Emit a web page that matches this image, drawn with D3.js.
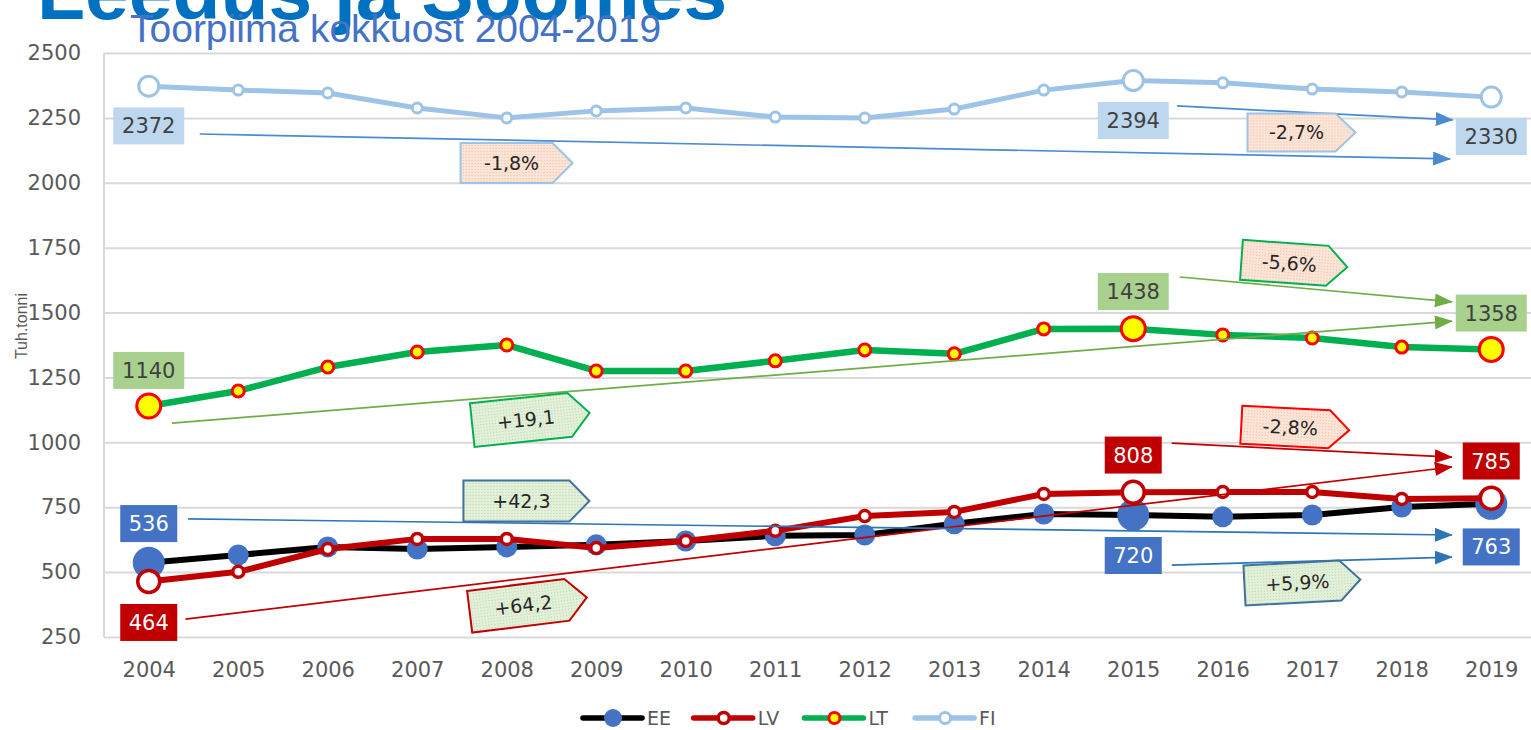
<!DOCTYPE html>
<html>
<head>
<meta charset="utf-8">
<script src="https://cdn.jsdelivr.net/npm/d3@7"></script>
<style>
  body { margin: 0; background: #fff; overflow: hidden; }
  svg { display: block; }
</style>
</head>
<body>
<div id="chart"></div>
<script>
// chart data
const years = [2004, 2005, 2006, 2007, 2008, 2009, 2010, 2011, 2012, 2013, 2014, 2015, 2016, 2017, 2018, 2019];
const yTicks = [250, 500, 750, 1000, 1250, 1500, 1750, 2000, 2250, 2500];
const ee = [536, 566, 597, 589, 597, 605, 620, 640, 643, 686, 724, 720, 713, 720, 751, 763];
const lv = [464, 501, 589, 628, 628, 593, 620, 659, 716, 732, 801, 808, 809, 809, 782, 785];
const lt = [1140, 1198, 1290, 1348, 1375, 1275, 1275, 1314, 1356, 1341, 1437, 1438, 1414, 1402, 1367, 1358];
const fi = [2372, 2357, 2346, 2288, 2250, 2277, 2288, 2253, 2250, 2284, 2357, 2394, 2385, 2361, 2350, 2330];
const seriesNames = ["EE", "LV", "LT", "FI"];
const bigYears = [2004, 2015, 2019];

// value boxes, placed in chart units (year, value)
const valueLabels = [
  { text: "2372", year: 2004, value: 2219, s: "FI" },
  { text: "2394", year: 2015, value: 2240, s: "FI" },
  { text: "2330", year: 2019, value: 2178, s: "FI" },
  { text: "1140", year: 2004, value: 1277, s: "LT" },
  { text: "1438", year: 2015, value: 1581, s: "LT" },
  { text: "1358", year: 2019, value: 1498, s: "LT" },
  { text: "536", year: 2004, value: 687, s: "EE" },
  { text: "720", year: 2015, value: 564, s: "EE" },
  { text: "763", year: 2019, value: 597, s: "EE" },
  { text: "464", year: 2004, value: 306, s: "LV" },
  { text: "808", year: 2015, value: 951, s: "LV" },
  { text: "785", year: 2019, value: 928, s: "LV" }
];

// trend arrows
const trendArrows = [
  { s: "FI", x1: 2004.57, v1: 2188, x2: 2018.54, v2: 2092 },
  { s: "FI", x1: 2015.49, v1: 2296, x2: 2018.57, v2: 2242 },
  { s: "LT", x1: 2004.26, v1: 1074, x2: 2018.56, v2: 1467 },
  { s: "LT", x1: 2015.52, v1: 1637, x2: 2018.56, v2: 1541 },
  { s: "LV", x1: 2004.41, v1: 319, x2: 2018.56, v2: 905 },
  { s: "LV", x1: 2015.43, v1: 997, x2: 2018.56, v2: 943 },
  { s: "EE", x1: 2004.44, v1: 705, x2: 2018.56, v2: 643 },
  { s: "EE", x1: 2015.43, v1: 527, x2: 2018.56, v2: 558 }
];

// change callouts
const changeNotes = [
  { text: "-1,8%", year: 2008.11, value: 2076, angle: 0, border: "#9DC3E6", kind: "peach", w: 112, h: 40 },
  { text: "-2,7%", year: 2016.88, value: 2194, angle: 0, border: "#9DC3E6", kind: "peach", w: 108, h: 38 },
  { text: "-5,6%", year: 2016.80, value: 1689, angle: 4, border: "#00B050", kind: "peach", w: 106, h: 40 },
  { text: "+19,1", year: 2008.27, value: 1090, angle: -6, border: "#00B050", kind: "green", w: 118, h: 44 },
  { text: "-2,8%", year: 2016.81, value: 1057, angle: 3, border: "#FF0000", kind: "peach", w: 108, h: 38 },
  { text: "+42,3", year: 2008.22, value: 774, angle: 0, border: "#41719C", kind: "green", w: 126, h: 41 },
  { text: "+64,2", year: 2008.24, value: 375, angle: -7, border: "#C00000", kind: "green", w: 118, h: 42 },
  { text: "+5,9%", year: 2016.89, value: 460, angle: -3, border: "#41719C", kind: "green", w: 116, h: 40 }
];

const styles = {
  EE: { line: "#000000", lw: 6, fill: "#4472C4", stroke: "none", sw: 0, r: 10.5, rBig: 16, lr: 9,
        box: "#4472C4", txt: "#ffffff", arrow: "#2E75B6" },
  LV: { line: "#C00000", lw: 6, fill: "#ffffff", stroke: "#C00000", sw: 3.5, r: 5.5, rBig: 11, lr: 5.5,
        box: "#C00000", txt: "#ffffff", arrow: "#C00000" },
  LT: { line: "#00B050", lw: 6.5, fill: "#FFFF00", stroke: "#FF0000", sw: 3, r: 6, rBig: 12, lr: 5.5,
        box: "#A9D18E", txt: "#404040", arrow: "#70AD47" },
  FI: { line: "#9DC3E6", lw: 5, fill: "#ffffff", stroke: "#9DC3E6", sw: 3, r: 5, rBig: 10, lr: 5.5,
        box: "#BDD7EE", txt: "#404040", arrow: "#4A8BD2" }
};

const seriesValues = { EE: ee, LV: lv, LT: lt, FI: fi };

const width = 1531, height = 730;
const plot = { left: 104, right: 1536, top: 53, bottom: 637 };

const x = d3.scaleLinear().domain([2003.5, 2019.5]).range([plot.left, plot.right]);
const y = d3.scaleLinear().domain([250, 2500]).range([plot.bottom, plot.top]);

const svg = d3.select("#chart").append("svg")
  .attr("width", width)
  .attr("height", height)
  .attr("viewBox", `0 0 ${width} ${height}`);

const defs = svg.append("defs");

// dotted fills used by the callouts
[["peach", "#FCE4D6", "#EDBFA5"], ["green", "#E2F0D9", "#B9D7A6"]].forEach(([id, base, dot]) => {
  const p = defs.append("pattern").attr("id", "dot-" + id)
    .attr("width", 3).attr("height", 3).attr("patternUnits", "userSpaceOnUse");
  p.append("rect").attr("width", 3).attr("height", 3).attr("fill", base);
  p.append("rect").attr("width", 1).attr("height", 1).attr("fill", dot);
});

seriesNames.forEach(s => {
  defs.append("marker").attr("id", "arrow-" + s)
    .attr("viewBox", "0 0 18 14")
    .attr("markerWidth", 18).attr("markerHeight", 14)
    .attr("refX", 17).attr("refY", 7)
    .attr("markerUnits", "userSpaceOnUse")
    .attr("orient", "auto")
    .append("path").attr("d", "M0,0 L18,7 L0,14 Z").attr("fill", styles[s].arrow);
});

// gridlines
const grid = svg.append("g").attr("transform", `translate(${plot.left},0)`)
  .call(d3.axisLeft(y).tickValues(yTicks).tickFormat("").tickSize(-(plot.right - plot.left)));
grid.select(".domain").remove();
grid.selectAll("line").attr("stroke", "#D9D9D9").attr("stroke-width", 2);

svg.append("line")
  .attr("x1", plot.left).attr("x2", plot.left)
  .attr("y1", plot.top).attr("y2", plot.bottom)
  .attr("stroke", "#D9D9D9").attr("stroke-width", 2);

// y axis labels
const yAxis = svg.append("g").attr("transform", `translate(${plot.left},0)`)
  .call(d3.axisLeft(y).tickValues(yTicks).tickFormat(d3.format("d")).tickSize(0).tickPadding(23));
yAxis.select(".domain").remove();
yAxis.selectAll("text")
  .attr("fill", "#595959")
  .style("font-family", "'DejaVu Sans', sans-serif")
  .style("font-size", "21px");

// x axis labels
const xAxis = svg.append("g").attr("transform", `translate(0,${plot.bottom})`)
  .call(d3.axisBottom(x).tickValues(years).tickFormat(d3.format("d")).tickSize(0).tickPadding(25));
xAxis.select(".domain").remove();
xAxis.selectAll("text")
  .attr("fill", "#595959")
  .style("font-family", "'DejaVu Sans', sans-serif")
  .style("font-size", "21px");

svg.append("text")
  .attr("transform", "translate(27,326) rotate(-90)")
  .attr("text-anchor", "middle")
  .attr("fill", "#595959")
  .style("font-family", "'Liberation Sans', Arial, sans-serif")
  .style("font-size", "16px")
  .text("Tuh.tonni");

// titles
svg.append("text")
  .attr("x", 37).attr("y", 19)
  .attr("fill", "#0070C0")
  .style("font-family", "'Liberation Sans', Arial, sans-serif")
  .style("font-weight", "bold")
  .style("font-size", "78.6px")
  .text("Leedus ja Soomes");

svg.append("text")
  .attr("x", 130).attr("y", 41.5)
  .attr("fill", "#4472C4")
  .style("font-family", "'Liberation Sans', Arial, sans-serif")
  .style("font-size", "39px")
  .text("Toorpiima kokkuost 2004-2019");

// series lines and markers
const line = d3.line().x(d => x(d.year)).y(d => y(d.value));

seriesNames.forEach(s => {
  const st = styles[s];
  const pts = years.map((yr, i) => ({ year: yr, value: seriesValues[s][i] }));
  const g = svg.append("g").attr("class", "series-" + s);
  g.append("path")
    .datum(pts)
    .attr("d", line)
    .attr("fill", "none")
    .attr("stroke", st.line)
    .attr("stroke-width", st.lw)
    .attr("stroke-linejoin", "round");
  g.selectAll("circle")
    .data(pts)
    .join("circle")
    .attr("cx", d => x(d.year))
    .attr("cy", d => y(d.value))
    .attr("r", d => bigYears.includes(d.year) ? st.rBig : st.r)
    .attr("fill", st.fill)
    .attr("stroke", st.stroke)
    .attr("stroke-width", st.sw);
});

// trend arrows
svg.append("g").selectAll("line")
  .data(trendArrows)
  .join("line")
  .attr("x1", d => x(d.x1)).attr("y1", d => y(d.v1))
  .attr("x2", d => x(d.x2)).attr("y2", d => y(d.v2))
  .attr("stroke", d => styles[d.s].arrow)
  .attr("stroke-width", 1.7)
  .attr("marker-end", d => `url(#arrow-${d.s})`);

// value boxes
const vl = svg.append("g").selectAll("g")
  .data(valueLabels)
  .join("g")
  .attr("transform", d => `translate(${x(d.year)},${y(d.value)})`);
vl.append("rect")
  .attr("x", d => d.text.length > 3 ? -35.5 : -28.5)
  .attr("y", -18.5)
  .attr("width", d => d.text.length > 3 ? 71 : 57)
  .attr("height", 37)
  .attr("fill", d => styles[d.s].box);
vl.append("text")
  .attr("text-anchor", "middle")
  .attr("dy", "0.36em")
  .attr("fill", d => styles[d.s].txt)
  .style("font-family", "'DejaVu Sans', sans-serif")
  .style("font-size", "21px")
  .text(d => d.text);

// change callouts
const cn = svg.append("g").selectAll("g")
  .data(changeNotes)
  .join("g")
  .attr("transform", d => `translate(${x(d.year)},${y(d.value)}) rotate(${d.angle})`);
cn.append("path")
  .attr("d", d => {
    const w = d.w / 2, h = d.h / 2, tip = 20;
    return `M${-w},${-h} L${w - tip},${-h} L${w},0 L${w - tip},${h} L${-w},${h} Z`;
  })
  .attr("fill", d => `url(#dot-${d.kind})`)
  .attr("stroke", d => d.border)
  .attr("stroke-width", 2);
cn.append("text")
  .attr("x", -5)
  .attr("text-anchor", "middle")
  .attr("dy", "0.36em")
  .attr("fill", "#262626")
  .style("font-family", "'DejaVu Sans', sans-serif")
  .style("font-size", "19px")
  .text(d => d.text);

// legend
const legend = svg.append("g").attr("transform", "translate(583,718)");
const li = legend.selectAll("g")
  .data(seriesNames)
  .join("g")
  .attr("transform", (d, i) => `translate(${i * 110.7},0)`);
li.append("line")
  .attr("x1", 0).attr("x2", 59)
  .attr("stroke", d => styles[d].line)
  .attr("stroke-width", 5.5)
  .attr("stroke-linecap", "round");
li.append("circle")
  .attr("cx", 30)
  .attr("r", d => styles[d].lr)
  .attr("fill", d => styles[d].fill)
  .attr("stroke", d => styles[d].stroke)
  .attr("stroke-width", d => styles[d].sw);
li.append("text")
  .attr("x", 64)
  .attr("dy", "0.36em")
  .attr("fill", "#595959")
  .style("font-family", "'DejaVu Sans', sans-serif")
  .style("font-size", "19px")
  .text(d => d);
</script>
</body>
</html>
